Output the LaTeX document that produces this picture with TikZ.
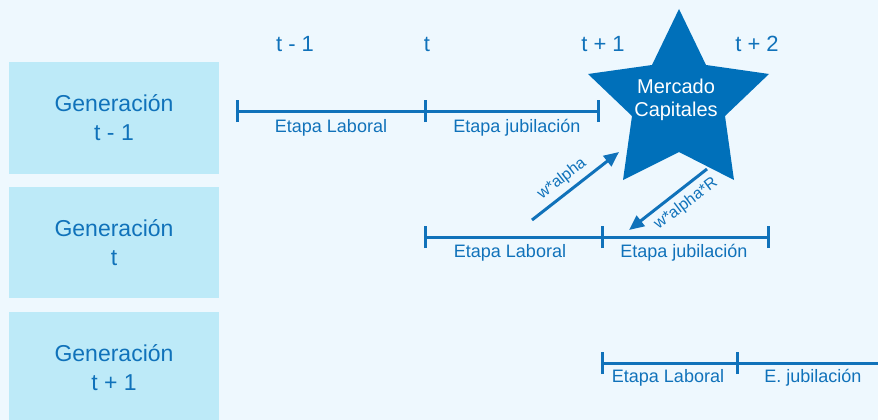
\documentclass[tikz,border=0pt]{standalone}
\usepackage{fontspec}
\setmainfont{Liberation Sans}
\usetikzlibrary{arrows.meta}
\definecolor{bgc}{RGB}{238,248,254}
\definecolor{boxc}{RGB}{189,234,248}
\definecolor{bluec}{RGB}{16,114,186}
\definecolor{starc}{RGB}{0,112,186}
\tikzset{
  genbox/.style={fill=boxc, draw=none, minimum width=210pt, inner sep=0pt, text=bluec, align=center, font=\fontsize{23}{29}\selectfont},
  toplbl/.style={text=bluec, anchor=base, inner sep=0pt, font=\fontsize{22}{26}\selectfont},
  stagelbl/.style={text=bluec, anchor=base, inner sep=0pt, font=\fontsize{18}{20}\selectfont},
  tline/.style={draw=bluec, line width=3pt},
  tick/.style={draw=bluec, line width=3pt},
  flow/.style={draw=bluec, line width=3pt, -{Triangle[length=15pt,width=13pt]}},
  flowlbl/.style={text=bluec, inner sep=0pt, font=\fontsize{16}{18}\selectfont},
}
\begin{document}
\begin{tikzpicture}[x=1pt,y=-1pt]
\fill[bgc] (0,0) rectangle (878,420);
\useasboundingbox (0,0) rectangle (878,420);

% generation boxes
\node[genbox, minimum height=112pt] (g1) at (114,118) {Generación\\t - 1};
\node[genbox, minimum height=111pt] (g2) at (114,242.5) {Generación\\t};
\node[genbox, minimum height=112pt] (g3) at (114,368) {Generación\\t + 1};

% top time labels
\node[toplbl] (tm1) at (295,52) {t - 1};
\node[toplbl] (t0) at (427,52) {t};
\node[toplbl] (tp1) at (603,52) {t + 1};
\node[toplbl] (tp2) at (757,52) {t + 2};

% timeline row 1
\coordinate (a1) at (237,111);
\coordinate (a2) at (425,111);
\coordinate (a3) at (598,111);
\draw[tline] (a1) -- (a3);
\foreach \p in {a1,a2,a3} \draw[tick] ([yshift=-11pt]\p) -- ([yshift=11pt]\p);
\node[stagelbl] (l1a) at (331,132) {Etapa Laboral};
\node[stagelbl] (l1b) at (517,132) {Etapa jubilación};

% timeline row 2
\coordinate (b1) at (425,237);
\coordinate (b2) at (602,237);
\coordinate (b3) at (768,237);
\draw[tline] (b1) -- (b3);
\foreach \p in {b1,b2,b3} \draw[tick] ([yshift=-11pt]\p) -- ([yshift=11pt]\p);
\node[stagelbl] (l2a) at (510,257) {Etapa Laboral};
\node[stagelbl] (l2b) at (684,257) {Etapa jubilación};

% timeline row 3
\coordinate (c1) at (602,363);
\coordinate (c2) at (737,363);
\coordinate (c3) at (880,363);
\draw[tline] (c1) -- (c3);
\foreach \p in {c1,c2} \draw[tick] ([yshift=-11pt]\p) -- ([yshift=11pt]\p);
\node[stagelbl] (l3a) at (668,382) {Etapa Laboral};
\node[stagelbl] (l3b) at (813,382) {E. jubilación};

% star
\fill[starc] (679,9) -- (706,65) -- (769,74) -- (725,116) -- (734,180) -- (679,152)
  -- (623,180) -- (632,116) -- (588,74) -- (652,65) -- cycle;
\node[text=white, align=center, inner sep=0pt, font=\fontsize{20}{23}\selectfont] (mk) at (676,100) {Mercado\\Capitales};

% flows
\coordinate (f1s) at (532,220);
\coordinate (f1e) at (619,152);
\coordinate (f2s) at (707,169);
\coordinate (f2e) at (629,230);
\draw[flow] (f1s) -- (f1e);
\draw[flow] (f2s) -- (f2e);
\node[flowlbl, rotate=38] (w1) at (562,179) {w*alpha};
\node[flowlbl, rotate=37] (w2) at (686,204) {w*alpha*R};
\end{tikzpicture}
\end{document}
